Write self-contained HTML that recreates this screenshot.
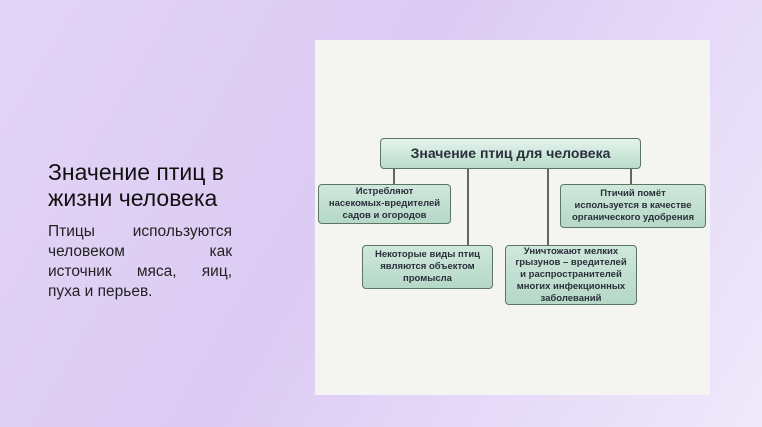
<!DOCTYPE html>
<html><head><meta charset="utf-8"><style>
body{margin:0;width:762px;height:427px;overflow:hidden;background:linear-gradient(120deg,#e2d4f6 0%,#dccbf3 45%,#e6dcf8 75%,#efe9fb 100%);font-family:"Liberation Sans","Noto Sans CJK SC",sans-serif;position:relative}
.t{position:absolute;left:48px;top:159px;font-size:23px;line-height:26px;color:#111}
.p{position:absolute;left:48px;top:222px;width:184px;font-size:15.5px;line-height:20px;color:#222}
.p div{text-align:justify;text-align-last:justify;white-space:nowrap}
.p div.last{text-align-last:left}
.panel{position:absolute;left:315px;top:40px;width:395px;height:355px;background:#f4f4f3}
.b{position:absolute;background:linear-gradient(#cfe8dc,#b5d8c7);border:1.5px solid #5d7466;border-radius:4px;box-sizing:border-box;display:flex;align-items:center;justify-content:center;text-align:center;font-weight:bold;font-size:9.5px;line-height:11.8px;color:#2a2f3a}
.l{position:absolute;background:#5d6a64;width:1.5px}
</style></head><body>
<div class="t">Значение птиц в<br>жизни человека</div>
<div class="p"><div>Птицы используются</div><div>человеком как</div><div>источник мяса, яиц,</div><div class="last">пуха и перьев.</div></div>
<div class="panel"></div>
<div class="l" style="left:393px;top:169px;height:16px"></div>
<div class="l" style="left:467px;top:169px;height:77px"></div>
<div class="l" style="left:547px;top:169px;height:77px"></div>
<div class="l" style="left:630px;top:169px;height:16px"></div>
<div class="b" style="left:380px;top:138px;width:261px;height:31px;font-size:14px;background:linear-gradient(#e4f3ec,#b9dccb)">Значение птиц для человека</div>
<div class="b" style="left:318px;top:184px;width:133px;height:40px">Истребляют<br>насекомых-вредителей<br>садов и огородов</div>
<div class="b" style="left:560px;top:184px;width:146px;height:44px">Птичий помёт<br>используется в качестве<br>органического удобрения</div>
<div class="b" style="left:362px;top:245px;width:131px;height:44px">Некоторые виды птиц<br>являются объектом<br>промысла</div>
<div class="b" style="left:505px;top:245px;width:132px;height:60px">Уничтожают мелких<br>грызунов – вредителей<br>и распространителей<br>многих инфекционных<br>заболеваний</div>
</body></html>
